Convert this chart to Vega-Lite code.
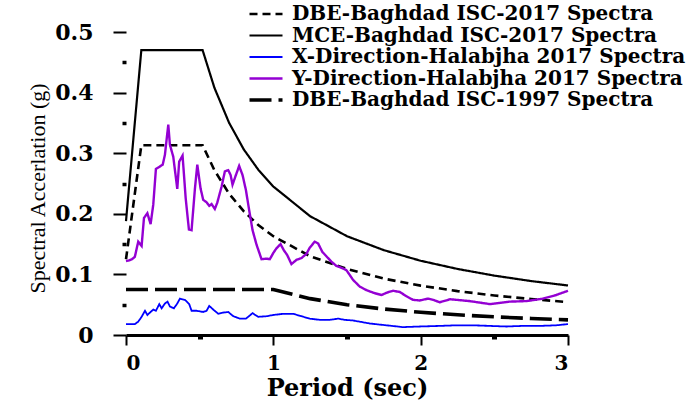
{
  "$schema": "https://vega.github.io/schema/vega-lite/v6.json",
  "width": 442,
  "height": 303,
  "autosize": {"type": "none"},
  "padding": {"left": 126, "top": 32, "right": 131, "bottom": 66},
  "background": "white",
  "config": {
    "view": {"stroke": null},
    "legend": {
      "symbolType": "M-3.3,0H3.3",
      "symbolSize": 100,
      "labelFont": "DejaVu Serif",
      "labelFontWeight": "bold",
      "labelFontSize": 20,
      "labelColor": "black",
      "labelOffset": 16,
      "rowPadding": 1.5,
      "padding": 0,
      "labelLimit": 600
    }
  },
  "data": {"values": [
    {"series": "MCE-Baghdad ISC-2017 Spectra", "T": 0, "v": 0.188},
    {"series": "MCE-Baghdad ISC-2017 Spectra", "T": 0.104, "v": 0.47},
    {"series": "MCE-Baghdad ISC-2017 Spectra", "T": 0.52, "v": 0.47},
    {"series": "MCE-Baghdad ISC-2017 Spectra", "T": 0.6, "v": 0.408},
    {"series": "MCE-Baghdad ISC-2017 Spectra", "T": 0.7, "v": 0.35},
    {"series": "MCE-Baghdad ISC-2017 Spectra", "T": 0.8, "v": 0.306},
    {"series": "MCE-Baghdad ISC-2017 Spectra", "T": 0.9, "v": 0.272},
    {"series": "MCE-Baghdad ISC-2017 Spectra", "T": 1.0, "v": 0.245},
    {"series": "MCE-Baghdad ISC-2017 Spectra", "T": 1.25, "v": 0.196},
    {"series": "MCE-Baghdad ISC-2017 Spectra", "T": 1.5, "v": 0.163},
    {"series": "MCE-Baghdad ISC-2017 Spectra", "T": 1.75, "v": 0.14},
    {"series": "MCE-Baghdad ISC-2017 Spectra", "T": 2.0, "v": 0.1225},
    {"series": "MCE-Baghdad ISC-2017 Spectra", "T": 2.25, "v": 0.109},
    {"series": "MCE-Baghdad ISC-2017 Spectra", "T": 2.5, "v": 0.098},
    {"series": "MCE-Baghdad ISC-2017 Spectra", "T": 2.75, "v": 0.089},
    {"series": "MCE-Baghdad ISC-2017 Spectra", "T": 3.0, "v": 0.0817},
    {"series": "DBE-Baghdad ISC-2017 Spectra", "T": 0, "v": 0.125},
    {"series": "DBE-Baghdad ISC-2017 Spectra", "T": 0.104, "v": 0.313},
    {"series": "DBE-Baghdad ISC-2017 Spectra", "T": 0.52, "v": 0.313},
    {"series": "DBE-Baghdad ISC-2017 Spectra", "T": 0.6, "v": 0.272},
    {"series": "DBE-Baghdad ISC-2017 Spectra", "T": 0.7, "v": 0.233},
    {"series": "DBE-Baghdad ISC-2017 Spectra", "T": 0.8, "v": 0.204},
    {"series": "DBE-Baghdad ISC-2017 Spectra", "T": 0.9, "v": 0.181},
    {"series": "DBE-Baghdad ISC-2017 Spectra", "T": 1.0, "v": 0.163},
    {"series": "DBE-Baghdad ISC-2017 Spectra", "T": 1.25, "v": 0.130},
    {"series": "DBE-Baghdad ISC-2017 Spectra", "T": 1.5, "v": 0.109},
    {"series": "DBE-Baghdad ISC-2017 Spectra", "T": 1.75, "v": 0.093},
    {"series": "DBE-Baghdad ISC-2017 Spectra", "T": 2.0, "v": 0.0815},
    {"series": "DBE-Baghdad ISC-2017 Spectra", "T": 2.25, "v": 0.0724},
    {"series": "DBE-Baghdad ISC-2017 Spectra", "T": 2.5, "v": 0.0652},
    {"series": "DBE-Baghdad ISC-2017 Spectra", "T": 2.75, "v": 0.0593},
    {"series": "DBE-Baghdad ISC-2017 Spectra", "T": 3.0, "v": 0.0543},
    {"series": "DBE-Baghdad ISC-1997 Spectra", "T": 0, "v": 0.075},
    {"series": "DBE-Baghdad ISC-1997 Spectra", "T": 1.0, "v": 0.075},
    {"series": "DBE-Baghdad ISC-1997 Spectra", "T": 1.25, "v": 0.06},
    {"series": "DBE-Baghdad ISC-1997 Spectra", "T": 1.5, "v": 0.05},
    {"series": "DBE-Baghdad ISC-1997 Spectra", "T": 1.75, "v": 0.0429},
    {"series": "DBE-Baghdad ISC-1997 Spectra", "T": 2.0, "v": 0.0375},
    {"series": "DBE-Baghdad ISC-1997 Spectra", "T": 2.25, "v": 0.0333},
    {"series": "DBE-Baghdad ISC-1997 Spectra", "T": 2.5, "v": 0.03},
    {"series": "DBE-Baghdad ISC-1997 Spectra", "T": 2.75, "v": 0.0273},
    {"series": "DBE-Baghdad ISC-1997 Spectra", "T": 3.0, "v": 0.025},
    {"series": "X-Direction-Halabjha 2017 Spectra", "T": 0.0, "v": 0.018},
    {"series": "X-Direction-Halabjha 2017 Spectra", "T": 0.06, "v": 0.018},
    {"series": "X-Direction-Halabjha 2017 Spectra", "T": 0.083, "v": 0.022},
    {"series": "X-Direction-Halabjha 2017 Spectra", "T": 0.106, "v": 0.030},
    {"series": "X-Direction-Halabjha 2017 Spectra", "T": 0.129, "v": 0.040},
    {"series": "X-Direction-Halabjha 2017 Spectra", "T": 0.145, "v": 0.033},
    {"series": "X-Direction-Halabjha 2017 Spectra", "T": 0.167, "v": 0.038},
    {"series": "X-Direction-Halabjha 2017 Spectra", "T": 0.185, "v": 0.042},
    {"series": "X-Direction-Halabjha 2017 Spectra", "T": 0.203, "v": 0.040},
    {"series": "X-Direction-Halabjha 2017 Spectra", "T": 0.226, "v": 0.051},
    {"series": "X-Direction-Halabjha 2017 Spectra", "T": 0.242, "v": 0.044},
    {"series": "X-Direction-Halabjha 2017 Spectra", "T": 0.264, "v": 0.052},
    {"series": "X-Direction-Halabjha 2017 Spectra", "T": 0.282, "v": 0.055},
    {"series": "X-Direction-Halabjha 2017 Spectra", "T": 0.298, "v": 0.047},
    {"series": "X-Direction-Halabjha 2017 Spectra", "T": 0.325, "v": 0.044},
    {"series": "X-Direction-Halabjha 2017 Spectra", "T": 0.348, "v": 0.052},
    {"series": "X-Direction-Halabjha 2017 Spectra", "T": 0.366, "v": 0.060},
    {"series": "X-Direction-Halabjha 2017 Spectra", "T": 0.40, "v": 0.058},
    {"series": "X-Direction-Halabjha 2017 Spectra", "T": 0.429, "v": 0.051},
    {"series": "X-Direction-Halabjha 2017 Spectra", "T": 0.445, "v": 0.040},
    {"series": "X-Direction-Halabjha 2017 Spectra", "T": 0.479, "v": 0.040},
    {"series": "X-Direction-Halabjha 2017 Spectra", "T": 0.524, "v": 0.038},
    {"series": "X-Direction-Halabjha 2017 Spectra", "T": 0.547, "v": 0.040},
    {"series": "X-Direction-Halabjha 2017 Spectra", "T": 0.565, "v": 0.048},
    {"series": "X-Direction-Halabjha 2017 Spectra", "T": 0.592, "v": 0.042},
    {"series": "X-Direction-Halabjha 2017 Spectra", "T": 0.626, "v": 0.035},
    {"series": "X-Direction-Halabjha 2017 Spectra", "T": 0.66, "v": 0.037},
    {"series": "X-Direction-Halabjha 2017 Spectra", "T": 0.694, "v": 0.038},
    {"series": "X-Direction-Halabjha 2017 Spectra", "T": 0.728, "v": 0.031},
    {"series": "X-Direction-Halabjha 2017 Spectra", "T": 0.773, "v": 0.027},
    {"series": "X-Direction-Halabjha 2017 Spectra", "T": 0.814, "v": 0.027},
    {"series": "X-Direction-Halabjha 2017 Spectra", "T": 0.859, "v": 0.036},
    {"series": "X-Direction-Halabjha 2017 Spectra", "T": 0.897, "v": 0.030},
    {"series": "X-Direction-Halabjha 2017 Spectra", "T": 0.954, "v": 0.031},
    {"series": "X-Direction-Halabjha 2017 Spectra", "T": 1.0, "v": 0.033},
    {"series": "X-Direction-Halabjha 2017 Spectra", "T": 1.067, "v": 0.035},
    {"series": "X-Direction-Halabjha 2017 Spectra", "T": 1.134, "v": 0.035},
    {"series": "X-Direction-Halabjha 2017 Spectra", "T": 1.19, "v": 0.031},
    {"series": "X-Direction-Halabjha 2017 Spectra", "T": 1.247, "v": 0.027},
    {"series": "X-Direction-Halabjha 2017 Spectra", "T": 1.315, "v": 0.025},
    {"series": "X-Direction-Halabjha 2017 Spectra", "T": 1.383, "v": 0.025},
    {"series": "X-Direction-Halabjha 2017 Spectra", "T": 1.44, "v": 0.027},
    {"series": "X-Direction-Halabjha 2017 Spectra", "T": 1.485, "v": 0.025},
    {"series": "X-Direction-Halabjha 2017 Spectra", "T": 1.54, "v": 0.024},
    {"series": "X-Direction-Halabjha 2017 Spectra", "T": 1.654, "v": 0.019},
    {"series": "X-Direction-Halabjha 2017 Spectra", "T": 1.767, "v": 0.016},
    {"series": "X-Direction-Halabjha 2017 Spectra", "T": 1.88, "v": 0.013},
    {"series": "X-Direction-Halabjha 2017 Spectra", "T": 1.993, "v": 0.014},
    {"series": "X-Direction-Halabjha 2017 Spectra", "T": 2.13, "v": 0.015},
    {"series": "X-Direction-Halabjha 2017 Spectra", "T": 2.24, "v": 0.016},
    {"series": "X-Direction-Halabjha 2017 Spectra", "T": 2.355, "v": 0.016},
    {"series": "X-Direction-Halabjha 2017 Spectra", "T": 2.47, "v": 0.015},
    {"series": "X-Direction-Halabjha 2017 Spectra", "T": 2.58, "v": 0.014},
    {"series": "X-Direction-Halabjha 2017 Spectra", "T": 2.69, "v": 0.015},
    {"series": "X-Direction-Halabjha 2017 Spectra", "T": 2.81, "v": 0.015},
    {"series": "X-Direction-Halabjha 2017 Spectra", "T": 2.92, "v": 0.016},
    {"series": "X-Direction-Halabjha 2017 Spectra", "T": 3.0, "v": 0.018},
    {"series": "Y-Direction-Halabjha 2017 Spectra", "T": 0.0, "v": 0.122},
    {"series": "Y-Direction-Halabjha 2017 Spectra", "T": 0.02, "v": 0.123},
    {"series": "Y-Direction-Halabjha 2017 Spectra", "T": 0.04, "v": 0.125},
    {"series": "Y-Direction-Halabjha 2017 Spectra", "T": 0.06, "v": 0.129},
    {"series": "Y-Direction-Halabjha 2017 Spectra", "T": 0.083, "v": 0.154},
    {"series": "Y-Direction-Halabjha 2017 Spectra", "T": 0.106, "v": 0.147},
    {"series": "Y-Direction-Halabjha 2017 Spectra", "T": 0.122, "v": 0.193},
    {"series": "Y-Direction-Halabjha 2017 Spectra", "T": 0.145, "v": 0.201},
    {"series": "Y-Direction-Halabjha 2017 Spectra", "T": 0.167, "v": 0.183},
    {"series": "Y-Direction-Halabjha 2017 Spectra", "T": 0.185, "v": 0.215},
    {"series": "Y-Direction-Halabjha 2017 Spectra", "T": 0.203, "v": 0.274},
    {"series": "Y-Direction-Halabjha 2017 Spectra", "T": 0.249, "v": 0.281},
    {"series": "Y-Direction-Halabjha 2017 Spectra", "T": 0.264, "v": 0.297},
    {"series": "Y-Direction-Halabjha 2017 Spectra", "T": 0.287, "v": 0.347},
    {"series": "Y-Direction-Halabjha 2017 Spectra", "T": 0.298, "v": 0.314},
    {"series": "Y-Direction-Halabjha 2017 Spectra", "T": 0.321, "v": 0.294},
    {"series": "Y-Direction-Halabjha 2017 Spectra", "T": 0.348, "v": 0.241},
    {"series": "Y-Direction-Halabjha 2017 Spectra", "T": 0.361, "v": 0.286},
    {"series": "Y-Direction-Halabjha 2017 Spectra", "T": 0.384, "v": 0.296},
    {"series": "Y-Direction-Halabjha 2017 Spectra", "T": 0.405, "v": 0.226},
    {"series": "Y-Direction-Halabjha 2017 Spectra", "T": 0.427, "v": 0.174},
    {"series": "Y-Direction-Halabjha 2017 Spectra", "T": 0.445, "v": 0.173},
    {"series": "Y-Direction-Halabjha 2017 Spectra", "T": 0.468, "v": 0.242},
    {"series": "Y-Direction-Halabjha 2017 Spectra", "T": 0.484, "v": 0.281},
    {"series": "Y-Direction-Halabjha 2017 Spectra", "T": 0.506, "v": 0.242},
    {"series": "Y-Direction-Halabjha 2017 Spectra", "T": 0.524, "v": 0.223},
    {"series": "Y-Direction-Halabjha 2017 Spectra", "T": 0.547, "v": 0.219},
    {"series": "Y-Direction-Halabjha 2017 Spectra", "T": 0.565, "v": 0.213},
    {"series": "Y-Direction-Halabjha 2017 Spectra", "T": 0.581, "v": 0.216},
    {"series": "Y-Direction-Halabjha 2017 Spectra", "T": 0.603, "v": 0.208},
    {"series": "Y-Direction-Halabjha 2017 Spectra", "T": 0.619, "v": 0.218},
    {"series": "Y-Direction-Halabjha 2017 Spectra", "T": 0.649, "v": 0.245},
    {"series": "Y-Direction-Halabjha 2017 Spectra", "T": 0.671, "v": 0.270},
    {"series": "Y-Direction-Halabjha 2017 Spectra", "T": 0.694, "v": 0.272},
    {"series": "Y-Direction-Halabjha 2017 Spectra", "T": 0.710, "v": 0.264},
    {"series": "Y-Direction-Halabjha 2017 Spectra", "T": 0.723, "v": 0.248},
    {"series": "Y-Direction-Halabjha 2017 Spectra", "T": 0.746, "v": 0.264},
    {"series": "Y-Direction-Halabjha 2017 Spectra", "T": 0.768, "v": 0.279},
    {"series": "Y-Direction-Halabjha 2017 Spectra", "T": 0.791, "v": 0.264},
    {"series": "Y-Direction-Halabjha 2017 Spectra", "T": 0.814, "v": 0.239},
    {"series": "Y-Direction-Halabjha 2017 Spectra", "T": 0.836, "v": 0.206},
    {"series": "Y-Direction-Halabjha 2017 Spectra", "T": 0.859, "v": 0.173},
    {"series": "Y-Direction-Halabjha 2017 Spectra", "T": 0.886, "v": 0.149},
    {"series": "Y-Direction-Halabjha 2017 Spectra", "T": 0.920, "v": 0.125},
    {"series": "Y-Direction-Halabjha 2017 Spectra", "T": 0.954, "v": 0.126},
    {"series": "Y-Direction-Halabjha 2017 Spectra", "T": 0.976, "v": 0.125},
    {"series": "Y-Direction-Halabjha 2017 Spectra", "T": 0.999, "v": 0.135},
    {"series": "Y-Direction-Halabjha 2017 Spectra", "T": 1.021, "v": 0.143},
    {"series": "Y-Direction-Halabjha 2017 Spectra", "T": 1.049, "v": 0.150},
    {"series": "Y-Direction-Halabjha 2017 Spectra", "T": 1.071, "v": 0.140},
    {"series": "Y-Direction-Halabjha 2017 Spectra", "T": 1.094, "v": 0.132},
    {"series": "Y-Direction-Halabjha 2017 Spectra", "T": 1.123, "v": 0.117},
    {"series": "Y-Direction-Halabjha 2017 Spectra", "T": 1.157, "v": 0.124},
    {"series": "Y-Direction-Halabjha 2017 Spectra", "T": 1.191, "v": 0.127},
    {"series": "Y-Direction-Halabjha 2017 Spectra", "T": 1.225, "v": 0.134},
    {"series": "Y-Direction-Halabjha 2017 Spectra", "T": 1.247, "v": 0.144},
    {"series": "Y-Direction-Halabjha 2017 Spectra", "T": 1.281, "v": 0.154},
    {"series": "Y-Direction-Halabjha 2017 Spectra", "T": 1.304, "v": 0.151},
    {"series": "Y-Direction-Halabjha 2017 Spectra", "T": 1.333, "v": 0.137},
    {"series": "Y-Direction-Halabjha 2017 Spectra", "T": 1.36, "v": 0.130},
    {"series": "Y-Direction-Halabjha 2017 Spectra", "T": 1.394, "v": 0.121},
    {"series": "Y-Direction-Halabjha 2017 Spectra", "T": 1.428, "v": 0.114},
    {"series": "Y-Direction-Halabjha 2017 Spectra", "T": 1.462, "v": 0.111},
    {"series": "Y-Direction-Halabjha 2017 Spectra", "T": 1.496, "v": 0.107},
    {"series": "Y-Direction-Halabjha 2017 Spectra", "T": 1.541, "v": 0.091},
    {"series": "Y-Direction-Halabjha 2017 Spectra", "T": 1.586, "v": 0.080},
    {"series": "Y-Direction-Halabjha 2017 Spectra", "T": 1.632, "v": 0.074},
    {"series": "Y-Direction-Halabjha 2017 Spectra", "T": 1.688, "v": 0.069},
    {"series": "Y-Direction-Halabjha 2017 Spectra", "T": 1.734, "v": 0.066},
    {"series": "Y-Direction-Halabjha 2017 Spectra", "T": 1.772, "v": 0.070},
    {"series": "Y-Direction-Halabjha 2017 Spectra", "T": 1.812, "v": 0.073},
    {"series": "Y-Direction-Halabjha 2017 Spectra", "T": 1.858, "v": 0.071},
    {"series": "Y-Direction-Halabjha 2017 Spectra", "T": 1.903, "v": 0.064},
    {"series": "Y-Direction-Halabjha 2017 Spectra", "T": 1.948, "v": 0.058},
    {"series": "Y-Direction-Halabjha 2017 Spectra", "T": 1.993, "v": 0.057},
    {"series": "Y-Direction-Halabjha 2017 Spectra", "T": 2.05, "v": 0.060},
    {"series": "Y-Direction-Halabjha 2017 Spectra", "T": 2.084, "v": 0.058},
    {"series": "Y-Direction-Halabjha 2017 Spectra", "T": 2.13, "v": 0.054},
    {"series": "Y-Direction-Halabjha 2017 Spectra", "T": 2.20, "v": 0.059},
    {"series": "Y-Direction-Halabjha 2017 Spectra", "T": 2.33, "v": 0.056},
    {"series": "Y-Direction-Halabjha 2017 Spectra", "T": 2.47, "v": 0.051},
    {"series": "Y-Direction-Halabjha 2017 Spectra", "T": 2.60, "v": 0.055},
    {"series": "Y-Direction-Halabjha 2017 Spectra", "T": 2.72, "v": 0.056},
    {"series": "Y-Direction-Halabjha 2017 Spectra", "T": 2.83, "v": 0.060},
    {"series": "Y-Direction-Halabjha 2017 Spectra", "T": 2.92, "v": 0.066},
    {"series": "Y-Direction-Halabjha 2017 Spectra", "T": 3.0, "v": 0.073}
  ]},
  "mark": {"type": "line", "interpolate": "linear", "strokeCap": "butt"},
  "encoding": {
    "x": {
      "field": "T", "type": "quantitative",
      "scale": {"domain": [0, 3], "nice": false, "zero": false},
      "title": "Period (sec)",
      "axis": {
        "values": [0, 0.5, 1, 1.5, 2, 2.5, 3],
        "labelExpr": "datum.value % 1 == 0 ? format(datum.value, 'd') : ''",
        "grid": false,
        "domainColor": "black", "domainWidth": 3,
        "tickColor": "black",
        "tickSize": 10,
        "tickDash": {"condition": {"test": "datum.value % 1 == 0", "value": [1, 0]}, "value": [4, 20]},
        "tickWidth": {"condition": {"test": "datum.value % 1 == 0", "value": 2}, "value": 5},
        "labelFont": "DejaVu Serif", "labelFontWeight": "bold", "labelFontSize": 20, "labelColor": "black",
        "labelPadding": 8,
        "titleFont": "DejaVu Serif", "titleFontWeight": "bold", "titleFontSize": 24, "titleColor": "black",
        "titlePadding": 3
      }
    },
    "y": {
      "field": "v", "type": "quantitative",
      "scale": {"domain": [0, 0.5], "nice": false},
      "title": "Spectral Accerlation (g)",
      "axis": {
        "values": [0, 0.05, 0.1, 0.15, 0.2, 0.25, 0.3, 0.35, 0.4, 0.45, 0.5],
        "labelExpr": "round(datum.value * 100) % 10 == 0 ? (datum.value == 0 ? '0' : format(datum.value, '.1f')) : ''",
        "grid": false,
        "domain": false,
        "tickSize": 13,
        "tickColor": "black",
        "tickDash": {"condition": {"test": "round(datum.value * 100) % 10 == 0", "value": [1, 0]}, "value": [4, 20]},
        "tickWidth": {"condition": {"test": "round(datum.value * 100) % 10 == 0", "value": 2.2}, "value": 3.5},
        "labelFont": "DejaVu Serif", "labelFontWeight": "bold", "labelFontSize": 22, "labelColor": "black",
        "labelPadding": 20,
        "titleFont": "Liberation Serif", "titleFontWeight": "normal", "titleFontSize": 22, "titleColor": "black",
        "titlePadding": 5,
        "titleY": 156
      }
    },
    "color": {
      "field": "series", "type": "nominal", "title": null,
      "scale": {
        "domain": ["DBE-Baghdad ISC-2017 Spectra", "MCE-Baghdad ISC-2017 Spectra", "X-Direction-Halabjha 2017 Spectra", "Y-Direction-Halabjha 2017 Spectra", "DBE-Baghdad ISC-1997 Spectra"],
        "range": ["black", "black", "#0000ff", "#9400d3", "black"]
      },
      "legend": {"orient": "none", "legendX": 130, "legendY": -28}
    },
    "strokeDash": {
      "field": "series", "type": "nominal", "title": null,
      "scale": {
        "domain": ["DBE-Baghdad ISC-2017 Spectra", "MCE-Baghdad ISC-2017 Spectra", "X-Direction-Halabjha 2017 Spectra", "Y-Direction-Halabjha 2017 Spectra", "DBE-Baghdad ISC-1997 Spectra"],
        "range": [[8, 5], [1, 0], [1, 0], [1, 0], [22, 7]]
      },
      "legend": {"orient": "none", "legendX": 130, "legendY": -28}
    },
    "strokeWidth": {
      "field": "series", "type": "nominal", "title": null,
      "scale": {
        "type": "ordinal",
        "domain": ["DBE-Baghdad ISC-2017 Spectra", "MCE-Baghdad ISC-2017 Spectra", "X-Direction-Halabjha 2017 Spectra", "Y-Direction-Halabjha 2017 Spectra", "DBE-Baghdad ISC-1997 Spectra"],
        "range": [2.6, 2.2, 1.8, 2.4, 3.6]
      },
      "legend": {"orient": "none", "legendX": 130, "legendY": -28}
    }
  }
}
